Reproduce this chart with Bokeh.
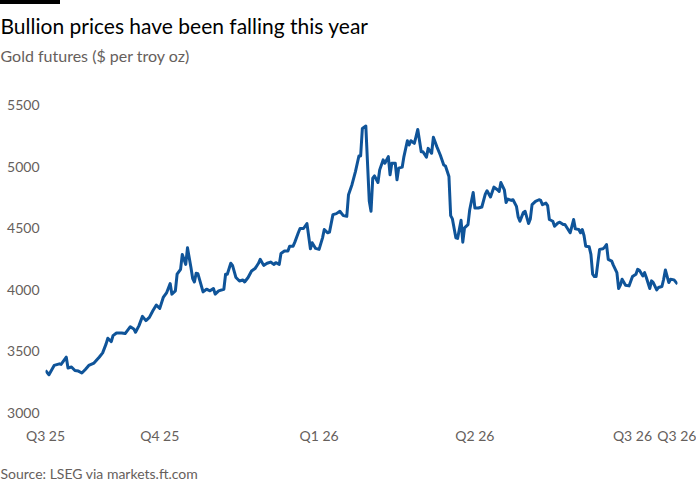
import pandas as pd
from bokeh.plotting import figure
from bokeh.layouts import column
from bokeh.models import FixedTicker, Range1d, ColumnDataSource, Title, Spacer
from bokeh.embed import file_html
from bokeh.resources import INLINE

# ---- data ----
start_date = "2025-07-27"
end_date = "2026-07-27"
day_offset = [
    0, 2, 5, 8, 9, 12, 13, 15, 17, 19, 21, 23, 25, 28, 31, 33, 35, 36, 38, 39,
    41, 44, 46, 49, 51, 52, 54, 56, 58, 60, 62, 64, 66, 68, 70, 72, 73, 75, 76, 78,
    79, 81, 82, 84, 85, 86, 87, 88, 91, 93, 95, 97, 98, 100, 103, 104, 105, 107, 108, 110,
    112, 114, 115, 117, 119, 121, 123, 124, 126, 128, 130, 132, 133, 135, 136, 138, 140, 141, 143, 144,
    146, 147, 149, 151, 153, 154, 156, 158, 160, 161, 163, 164, 166, 168, 170, 172, 174, 175, 177, 179,
    181, 182, 183, 185, 187, 188, 189, 190, 192, 193, 195, 196, 198, 199, 200, 202, 203, 204, 206, 207,
    209, 210, 211, 213, 214, 215, 217, 218, 220, 221, 223, 224, 226, 228, 230, 231, 233, 234, 235, 237,
    238, 240, 241, 242, 244, 245, 247, 248, 250, 252, 254, 255, 257, 259, 261, 262, 263, 265, 266, 267,
    269, 270, 272, 273, 274, 276, 277, 279, 280, 281, 283, 285, 286, 287, 289, 290, 291, 293, 294, 296,
    297, 299, 300, 301, 303, 304, 305, 306, 308, 309, 310, 311, 312, 314, 315, 316, 317, 318, 319, 320,
    322, 323, 324, 325, 327, 328, 330, 331, 332, 333, 335, 337, 339, 341, 342, 343, 345, 346, 347, 349,
    350, 351, 353, 354, 356, 357, 358, 360, 361, 363, 365,
]
price = [
    3342, 3307, 3383, 3396, 3391, 3450, 3362, 3370, 3342, 3337, 3321, 3350, 3383, 3402, 3450, 3485, 3558, 3604, 3577, 3625,
    3647, 3647, 3642, 3698, 3680, 3653, 3707, 3782, 3747, 3774, 3828, 3874, 3847, 3936, 3976, 4049, 3963, 3989, 4125, 4165,
    4286, 4205, 4340, 4179, 4090, 4062, 4133, 4130, 3981, 4003, 3990, 4009, 3963, 3990, 4003, 4125, 4125, 4214, 4197, 4098,
    4070, 4078, 4062, 4098, 4151, 4171, 4214, 4246, 4197, 4214, 4224, 4205, 4219, 4205, 4294, 4313, 4313, 4353, 4353, 4386,
    4462, 4497, 4497, 4537, 4332, 4381, 4335, 4327, 4421, 4489, 4462, 4467, 4610, 4618, 4637, 4602, 4596, 4772, 4853, 4960,
    5087, 5087, 5311, 5330, 4718, 4637, 4907, 4925, 4871, 4974, 5055, 5028, 5082, 4934, 5028, 5028, 4893, 4988, 4996, 5082,
    5211, 5176, 5211, 5190, 5244, 5303, 5122, 5122, 5077, 5149, 5109, 5239, 5163, 5095, 5014, 5006, 4920, 4602, 4575, 4421,
    4416, 4564, 4386, 4502, 4529, 4650, 4790, 4664, 4664, 4672, 4777, 4804, 4753, 4834, 4812, 4798, 4871, 4812, 4709, 4736,
    4725, 4731, 4677, 4591, 4556, 4628, 4637, 4537, 4575, 4691, 4718, 4731, 4725, 4691, 4704, 4683, 4570, 4556, 4515, 4543,
    4548, 4529, 4529, 4507, 4462, 4515, 4570, 4494, 4489, 4462, 4489, 4440, 4353, 4348, 4286, 4125, 4106, 4106, 4219, 4327,
    4332, 4346, 4367, 4246, 4232, 4197, 4138, 4009, 4036, 4084, 4036, 4030, 4106, 4125, 4165, 4157, 4111, 4138, 4098, 4009,
    4071, 4057, 3997, 4017, 4025, 4084, 4160, 4057, 4084, 4079, 4044,
]
tick_dates = ["2025-07-27", "2025-10-01", "2026-01-01", "2026-04-01", "2026-07-01", "2026-07-27"]
tick_labels = ["Q3 25", "Q4 25", "Q1 26", "Q2 26", "Q3 26", "Q3 26"]
y_ticks = [3000, 3500, 4000, 4500, 5000, 5500]
y_min, y_max = 3000, 5815   # headroom above the top tick leaves the gap under the subtitle

title_text = "Bullion prices have been falling this year"
subtitle_text = "Gold futures ($ per troy oz)"
source_text = "Source: LSEG via markets.ft.com"

# ---- build ----
dates = pd.to_datetime(start_date) + pd.to_timedelta(day_offset, unit="D")
src = ColumnDataSource(dict(date=dates, price=price))

FONT = "Lato"
GREY = "#66605c"
BLUE = "#0f5499"
LEFT = 45

p = figure(
    width=696, height=493, x_axis_type="datetime",
    output_backend="svg", toolbar_location=None,
    min_border_left=LEFT, min_border_right=19, min_border_top=62, min_border_bottom=83,
    background_fill_color="white", border_fill_color="white",
)
p.x_range = Range1d(pd.to_datetime(start_date), pd.to_datetime(end_date))
p.y_range = Range1d(y_min, y_max)
p.outline_line_color = None
p.xgrid.grid_line_color = None
p.ygrid.grid_line_color = None

p.line("date", "price", source=src, line_color=BLUE, line_width=3, line_join="round")

tick_ms = [int(pd.Timestamp(d).value // 10**6) for d in tick_dates]
p.xaxis.ticker = FixedTicker(ticks=tick_ms)
p.xaxis.major_label_overrides = {t: lab for t, lab in zip(tick_ms, tick_labels)}
p.yaxis.ticker = FixedTicker(ticks=y_ticks)

for ax in (p.xaxis, p.yaxis):
    ax.axis_line_color = None
    ax.major_tick_line_color = None
    ax.minor_tick_line_color = None
    ax.major_tick_out = 0
    ax.minor_tick_out = 0
    ax.major_label_text_font = FONT
    ax.major_label_text_font_size = "14px"
    ax.major_label_text_color = GREY
p.xaxis.major_label_standoff = 14
p.yaxis.major_label_standoff = 6

# above the plot (first added sits nearest the plot)
p.add_layout(Title(text=subtitle_text, align="left", offset=-LEFT, standoff=4,
                   text_font=FONT, text_font_size="16px", text_color=GREY,
                   text_font_style="normal"), "above")
p.add_layout(Title(text=title_text, align="left", offset=-LEFT, standoff=8,
                   text_font=FONT, text_font_size="21px", text_color="#000000",
                   text_font_style="normal"), "above")
# below the plot
p.add_layout(Title(text=source_text, align="left", offset=-LEFT, standoff=32,
                   text_font=FONT, text_font_size="14px", text_color=GREY,
                   text_font_style="normal"), "below")

bar = Spacer(width=60, height=4, styles={"background-color": "black"})
layout = column(bar, p, spacing=0)

open("out.html", "w").write(file_html(layout, INLINE))
